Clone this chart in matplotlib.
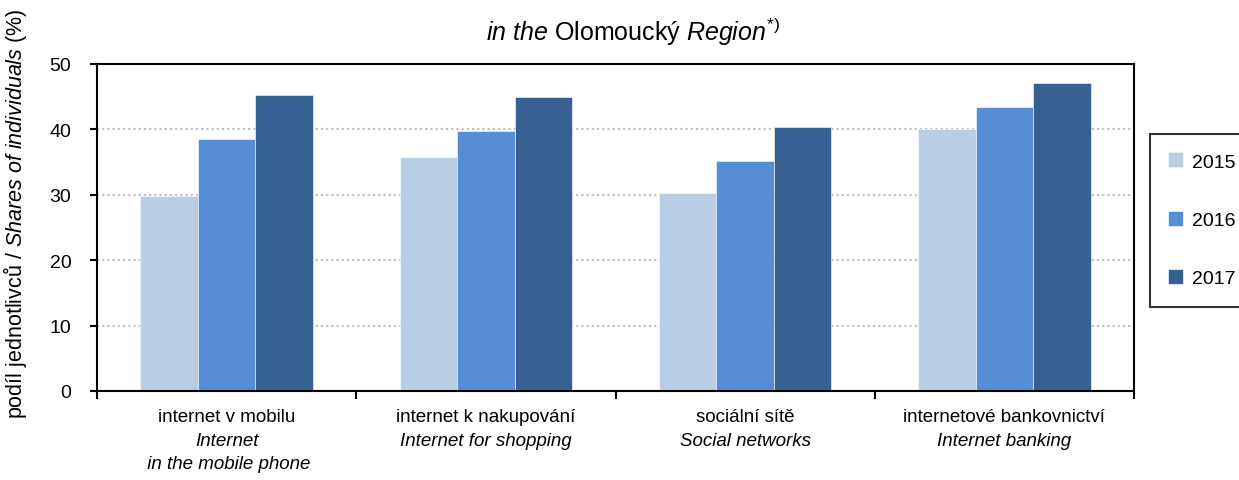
import matplotlib.pyplot as plt
import numpy as np
from matplotlib.patches import Rectangle
from matplotlib.transforms import blended_transform_factory

plt.rcParams['font.family'] = ['Liberation Sans', 'DejaVu Sans']
plt.rcParams['mathtext.fontset'] = 'custom'
plt.rcParams['mathtext.rm'] = 'Liberation Sans'
plt.rcParams['mathtext.it'] = 'Liberation Sans:italic'

# data
years = ['2015', '2016', '2017']
cat_cz = ['internet v mobilu', 'internet k nakupování', 'sociální sítě', 'internetové bankovnictví']
cat_en = ['Internet\n in the mobile phone', 'Internet for shopping', 'Social networks', 'Internet banking']
v2015 = [29.8, 35.8, 30.3, 40.1]
v2016 = [38.5, 39.8, 35.2, 43.4]
v2017 = [45.3, 45.0, 40.4, 47.1]
colors = ['#B9CDE5', '#558ED5', '#376092']

W, H = 1239, 481
fs = 13.5

fig = plt.figure(figsize=(W / 100, H / 100), dpi=100)
ax = fig.add_axes([97 / W, 1 - 392 / H, (1134 - 97) / W, (392 - 65) / H])

x = np.arange(len(cat_cz))
bw = 0.222
for i, vals in enumerate([v2015, v2016, v2017]):
    ax.bar(x + (i - 1) * bw, vals, bw, color=colors[i], edgecolor='white',
           linewidth=0.4, zorder=2)

ax.set_xlim(-0.5, 3.5)
ax.set_ylim(0, 50)
ax.set_yticks(range(0, 51, 10))
ax.set_xticks(np.arange(-0.5, 4, 1))
ax.set_xticklabels([])
ax.tick_params(axis='y', labelsize=14, direction='out', length=5, width=1.5, pad=13.5)
ax.tick_params(axis='x', direction='out', length=6, width=1.5)
for s in ax.spines.values():
    s.set_linewidth(1.5)
    s.set_color('black')

for yv in range(10, 50, 10):
    ax.axhline(yv, color='#BFBFBF', linestyle=(0, (1, 1.5)), linewidth=1.5, zorder=1)

# category labels under the axis
tr = blended_transform_factory(ax.transData, fig.transFigure)
for i in range(len(cat_cz)):
    ax.text(x[i], 1 - 418 / H, cat_cz[i], transform=tr, ha='center', va='center', fontsize=fs)
    ax.text(x[i], 1 - 433 / H, cat_en[i], transform=tr, ha='center', va='top',
            fontsize=fs, style='italic', linespacing=1.45)

ax.set_ylabel(r'podíl jednotlivců / $\it{Shares\ of\ individuals\ (\%)}$', fontsize=15.5)
ax.yaxis.set_label_coords(29 / W, 1 - 214 / H, transform=fig.transFigure)

fig.text(633 / W, 1 - 32 / H, r'$\it{in\ the}$ Olomoucký $\it{Region}^{*)}$',
         ha='center', va='center', fontsize=18)

handles = [Rectangle((0, 0), 1, 1, color=c) for c in colors]
leg = fig.legend(handles, years, loc='upper left', bbox_to_anchor=(1150 / W, 1 - 135 / H),
                 bbox_transform=fig.transFigure, fontsize=14, frameon=True, fancybox=False,
                 handlelength=0.65, handleheight=0.65, handletextpad=0.5, labelspacing=2.1,
                 borderpad=1.0, borderaxespad=0)
leg.get_frame().set_edgecolor('black')
leg.get_frame().set_linewidth(1.5)

fig.savefig('out.png', dpi=100)
